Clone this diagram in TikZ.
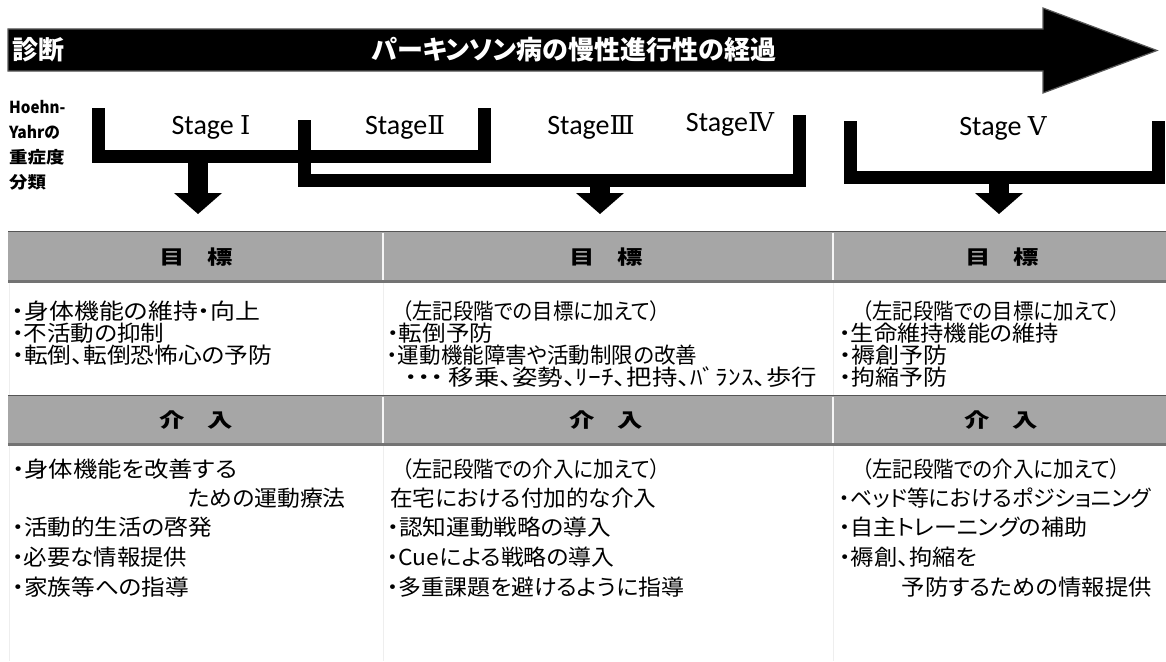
\documentclass[tikz,border=0pt]{standalone}
\usepackage{fontspec}
\usepackage{graphicx}
\setmainfont{Carlito}
\newfontfamily\jp[RawFeature=+palt]{Noto Sans CJK JP}
\newfontfamily\jpn{Noto Sans CJK JP}
\newfontfamily\calib{Carlito}
\newfontfamily\romf{DejaVu Serif}
\newcommand{\wide}[1]{\scalebox{1.3}[1]{#1}}
\newcommand{\hyw}[2]{\scalebox{#1}[1]{#2}}
\newcommand{\tw}[2]{\resizebox{#1pt}{\height}{#2}}
\newcommand{\rn}[1]{{\romf\fontsize{26}{28}\selectfont #1}}
\definecolor{bandgray}{RGB}{166,166,166}
\definecolor{bandtop}{RGB}{85,85,85}
\definecolor{bandbot}{RGB}{115,115,115}
\definecolor{faint}{RGB}{238,238,238}
\tikzset{
  toptext/.style={font=\jp\bfseries\fontsize{26}{28}\selectfont, text=white, inner sep=0pt},
  hy/.style={font=\jp\bfseries\fontsize{16.5}{19}\selectfont, anchor=west, inner sep=0pt},
  stg/.style={font=\calib\fontsize{28}{30}\selectfont, inner sep=0pt},
  bracket/.style={line width=13pt, line cap=butt, line join=miter},
  stem/.style={line width=20pt, line cap=butt},
  hd/.style={font=\jp\bfseries\fontsize{19.5}{21}\selectfont, inner sep=0pt},
  body/.style={font=\jp\fontsize{22}{24}\selectfont, anchor=west, inner sep=0pt},
  bodyr/.style={font=\jp\fontsize{22}{24}\selectfont, anchor=east, inner sep=0pt},
}
\begin{document}
\begin{tikzpicture}[x=1pt,y=-1pt]
\useasboundingbox (0,0) rectangle (1166,661);
\fill[white] (0,0) rectangle (1166,661);

% ---- top arrow
\fill[black, draw=black!65, line width=1.2pt] (8,29) -- (1043,29) -- (1043,8) -- (1157,50.5) -- (1043,93) -- (1043,71) -- (8,71) -- cycle;
\node[toptext, anchor=west] (diag) at (12,50) {診断};
\node[toptext] (course) at (574,50) {パーキンソン病の慢性進行性の経過};

% ---- Hoehn-Yahr label
\node[hy] (hy1) at (9,107) {\hyw{0.92}{Hoehn-}};
\node[hy] (hy2) at (9,132) {\hyw{0.95}{Yahrの}};
\node[hy] (hy3) at (9,157) {\hyw{1.12}{重症度}};
\node[hy] (hy4) at (9,182) {\hyw{1.12}{分類}};

% ---- stage labels
\node[stg] (s1) at (211,127) {Stage \rn{Ⅰ}};
\node[stg] (s2) at (405,127) {Stage\rn{Ⅱ}};
\node[stg] (s3) at (591,127) {Stage\rn{Ⅲ}};
\node[stg] (s4) at (730,124) {Stage\rn{Ⅳ}};
\node[stg] (s5) at (1003,128) {Stage \rn{Ⅴ}};

% ---- brackets
\coordinate (b1a) at (98,108);  \coordinate (b1b) at (98,156);
\coordinate (b1c) at (484,156); \coordinate (b1d) at (484,108);
\coordinate (b2a) at (304,120); \coordinate (b2b) at (304,180);
\coordinate (b2c) at (799,180); \coordinate (b2d) at (799,115);
\coordinate (b3a) at (850,121); \coordinate (b3b) at (850,177);
\coordinate (b3c) at (1158,177); \coordinate (b3d) at (1158,121);
\draw[bracket] (b1a) -- (b1b) -- (b1c) -- (b1d);
\draw[bracket] (b2a) -- (b2b) -- (b2c) -- (b2d);
\draw[bracket] (b3a) -- (b3b) -- (b3c) -- (b3d);

% ---- down arrows
\coordinate (a1s) at (198,160); \coordinate (a1h) at (198,193); \coordinate (a1t) at (198,214);
\coordinate (a2s) at (600,184); \coordinate (a2h) at (600,193); \coordinate (a2t) at (600,214);
\coordinate (a3s) at (999,181); \coordinate (a3h) at (999,193); \coordinate (a3t) at (999,214);
\draw[stem] (a1s) -- (a1h);
\draw[stem] (a2s) -- (a2h);
\draw[stem] (a3s) -- (a3h);
\fill ([xshift=-24pt]a1h) -- ([xshift=24pt]a1h) -- (a1t) -- cycle;
\fill ([xshift=-24pt]a2h) -- ([xshift=24pt]a2h) -- (a2t) -- cycle;
\fill ([xshift=-24pt]a3h) -- ([xshift=24pt]a3h) -- (a3t) -- cycle;

% ---- table bands
\draw[faint, line width=1pt] (383,283) -- (383,661) (833,283) -- (833,661) (9,283) -- (9,661);
\foreach \t/\b in {231/283, 395/446}{
  \fill[bandgray] (8,\t) rectangle (1166,\b);
  \draw[bandtop, line width=1.2pt] (8,\t+0.6) -- (1166,\t+0.6);
  \draw[bandbot, line width=3pt] (8,\b-1.5) -- (1166,\b-1.5);
  \draw[white!92!gray, line width=1.5pt] (383,\t+1.5) -- (383,\b-3);
  \draw[white!92!gray, line width=1.5pt] (833,\t+1.5) -- (833,\b-3);
}
\node[hd] (h11) at (196,257) {\wide{目\hspace{0.9em}標}};
\node[hd] (h12) at (606,257) {\wide{目\hspace{0.9em}標}};
\node[hd] (h13) at (1002,257) {\wide{目\hspace{0.9em}標}};
\node[hd] (h21) at (196,420.5) {\wide{介\hspace{0.9em}入}};
\node[hd] (h22) at (606,420.5) {\wide{介\hspace{0.9em}入}};
\node[hd] (h23) at (1001,420.5) {\wide{介\hspace{0.9em}入}};

% ---- goals
\node[body] (g11) at (12,311) {\tw{248}{・身体機能の維持・向上}};
\node[body] (g12) at (12,333) {\tw{152}{・不活動の抑制}};
\node[body] (g13) at (12,355) {\tw{260}{・転倒、転倒恐怖心の予防}};
\node[body] (g21) at (402,311) {\tw{258}{（左記段階での目標に加えて）}};
\node[body] (g22) at (387,333) {\tw{106}{・転倒予防}};
\node[body] (g23) at (387,355) {\tw{310}{・運動機能障害や活動制限の改善}};
\node[body] (g24) at (405,377) {\tw{412}{・・・ 移乗、姿勢、ﾘｰﾁ、把持、ﾊﾞﾗﾝｽ、歩行}};
\node[body] (g31) at (862,311) {\tw{258}{（左記段階での目標に加えて）}};
\node[body] (g32) at (839,333) {\tw{220}{・生命維持機能の維持}};
\node[body] (g33) at (839,355) {\tw{108}{・褥創予防}};
\node[body] (g34) at (839,377) {\tw{108}{・拘縮予防}};

% ---- interventions
\node[body] (i11) at (12,469) {\tw{225}{・身体機能を改善する}};
\node[bodyr] (i12) at (346,498) {\tw{158}{ための運動療法}};
\node[body] (i13) at (12,527) {\tw{200}{・活動的生活の啓発}};
\node[body] (i14) at (12,557) {\tw{175}{・必要な情報提供}};
\node[body] (i15) at (12,587) {\tw{177}{・家族等への指導}};
\node[body] (i21) at (402,469) {\tw{258}{（左記段階での介入に加えて）}};
\node[body] (i22) at (390,498) {\tw{266}{在宅における付加的な介入}};
\node[body] (i23) at (387,527) {\tw{224}{・認知運動戦略の導入}};
\node[body] (i24) at (387,557) {\tw{227}{・Cueによる戦略の導入}};
\node[body] (i25) at (387,587) {\tw{297}{・多重課題を避けるように指導}};
\node[body] (i31) at (862,469) {\tw{258}{（左記段階での介入に加えて）}};
\node[body] (i32) at (839,498) {\tw{312}{・ベッド等におけるポジショニング}};
\node[body] (i33) at (839,527) {\tw{248}{・自主トレーニングの補助}};
\node[body] (i34) at (839,557) {\tw{138}{・褥創、拘縮を}};
\node[bodyr] (i35) at (1152,587) {\tw{250}{予防するための情報提供}};
\end{tikzpicture}
\end{document}
